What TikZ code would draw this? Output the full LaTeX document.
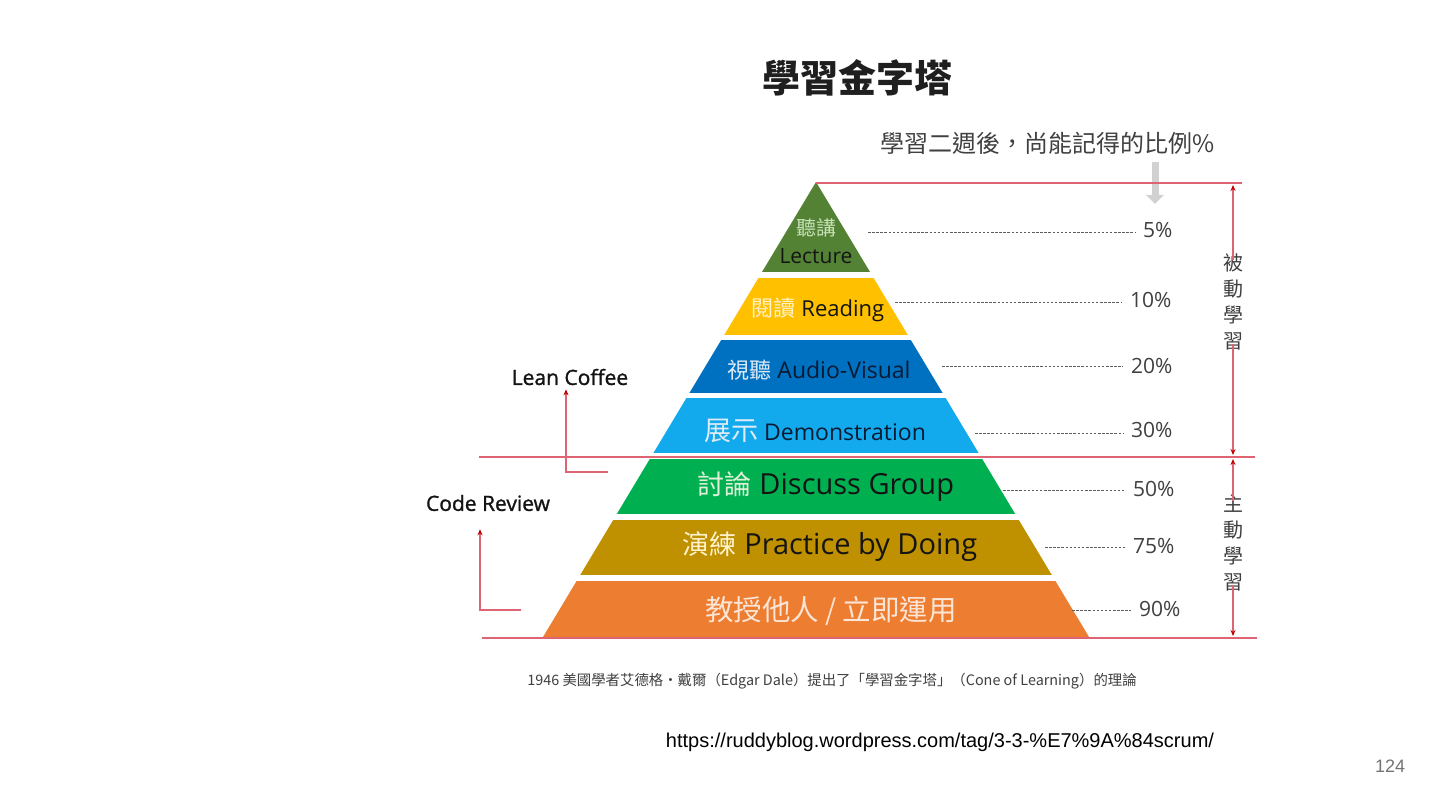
\documentclass[tikz,border=0pt]{standalone}
\usepackage{fontspec}
\setmainfont{Open Sans}
\newfontfamily\cjk{Noto Sans CJK TC}
\newfontfamily\semib[FakeBold=1.2]{Open Sans}
\newfontfamily\urlfont{Liberation Sans}
\usetikzlibrary{arrows.meta}
\definecolor{cLec}{HTML}{548235}
\definecolor{cRead}{HTML}{FFC000}
\definecolor{cAV}{HTML}{0070C0}
\definecolor{cDemo}{HTML}{12AAEC}
\definecolor{cDisc}{HTML}{00B050}
\definecolor{cPrac}{HTML}{BF9000}
\definecolor{cTeach}{HTML}{ED7D31}
\definecolor{lLec}{HTML}{C5E0B4}
\definecolor{lRead}{HTML}{FFF2CC}
\definecolor{lBlue}{HTML}{DEEBF7}
\definecolor{lGreen}{HTML}{E2F0D9}
\definecolor{lOrange}{HTML}{FBE5D6}
\definecolor{dNavy}{HTML}{0B1A33}
\definecolor{dText}{HTML}{141414}
\definecolor{redline}{HTML}{DE6474}
\definecolor{redtip}{HTML}{C00000}
\definecolor{pct}{HTML}{404040}
\newcommand\fsz[2]{\fontsize{#1}{#2}\selectfont}
\begin{document}
\begin{tikzpicture}[x=1pt,y=-1pt,
  txt/.style={inner sep=0pt, anchor=center},
  pctlabel/.style={inner sep=0pt, anchor=west, text=pct, font=\fsz{21}{24}},
  dashline/.style={draw=pct!85, line width=0.9pt, dash pattern=on 2.5pt off 1.6pt},
  redl/.style={draw=redline, line width=1.2pt},
  redarrow/.style={draw=redline, line width=1.2pt, -{Stealth[length=6pt,width=5pt,color=redtip]}},
  sidelabel/.style={inner sep=0pt, align=center, text=pct, font={\cjk\fsz{20}{26}}},
  leftlabel/.style={inner sep=0pt, text=dText, font={\semib\fsz{21}{24}}}
]
\useasboundingbox (0,0) rectangle (1440,810);
\fill[white] (0,0) rectangle (1440,810);

% title
\node[txt, text=black!88] (title) at (857,78) {\cjk\bfseries\fsz{38}{42}學習金字塔};
\node[txt, text=pct] (sub) at (1048,143) {\cjk\fsz{24}{27}學習二週後，尚能記得的比例\%};
\coordinate (gA) at (1155,162);
\coordinate (gB) at (1155,204);
\draw[line width=7pt, draw=black!18, -{Triangle[length=9pt,width=17pt]}] (gA) -- (gB);

% pyramid layers
\begin{scope}
\clip (816,182) -- (543,637) -- (1089,637) -- cycle;
\fill[cLec]   (500,182) rectangle (1100,272);
\fill[cRead]  (500,278) rectangle (1100,335);
\fill[cAV]    (500,340) rectangle (1100,393);
\fill[cDemo]  (500,398) rectangle (1100,453);
\fill[cDisc]  (500,459) rectangle (1100,514);
\fill[cPrac]  (500,520) rectangle (1100,575);
\fill[cTeach] (500,581) rectangle (1100,637);
\end{scope}

% layer texts
\node[txt] (lec1) at (816,228) {\cjk\fsz{20}{24}\color{lLec}聽講};
\node[txt] (lec2) at (816,256) {\fsz{21}{24}\color{dText}Lecture};
\node[txt] (read) at (818,310) {\fsz{22}{24}{\cjk\color{lRead}閱讀} \color{dText}Reading};
\node[txt] (av) at (819,370) {\fsz{23}{26}{\cjk\fsz{22}{26}\color{lBlue}視聽} \color{dNavy}Audio-Visual};
\node[txt] (demo) at (815,431) {\fsz{23}{26}{\cjk\fsz{27}{28}\color{lBlue}展示} \color{dNavy}Demonstration};
\node[txt] (disc) at (826,487) {\fsz{29}{30}{\cjk\fsz{27}{28}\color{lGreen}討論} \color{dText}Discuss Group};
\node[txt] (prac) at (830,547) {\fsz{29}{30}{\cjk\fsz{27}{28}\color{lRead}演練} \color{dText}Practice by Doing};
\node[txt] (teach) at (831,611) {\cjk\fsz{28.5}{30}\color{lOrange}教授他人 / 立即運用};

% percentages
\node[pctlabel] (p5)  at (1143,230) {5\%};
\node[pctlabel] (p10) at (1130,300) {10\%};
\node[pctlabel] (p20) at (1131,366) {20\%};
\node[pctlabel] (p30) at (1131,430) {30\%};
\node[pctlabel] (p50) at (1133,489) {50\%};
\node[pctlabel] (p75) at (1133,546) {75\%};
\node[pctlabel] (p90) at (1139,609) {90\%};
\coordinate (d5)  at (868,232);
\coordinate (d10) at (895,302);
\coordinate (d20) at (942,366);
\coordinate (d30) at (975,433);
\coordinate (d50) at (1003,490);
\coordinate (d75) at (1045,547);
\coordinate (d90) at (1072,610);
\draw[dashline] (d5)  -- ([xshift=-8pt]p5.west |- d5);
\draw[dashline] (d10) -- ([xshift=-8pt]p10.west |- d10);
\draw[dashline] (d20) -- ([xshift=-8pt]p20.west |- d20);
\draw[dashline] (d30) -- ([xshift=-8pt]p30.west |- d30);
\draw[dashline] (d50) -- ([xshift=-8pt]p50.west |- d50);
\draw[dashline] (d75) -- ([xshift=-8pt]p75.west |- d75);
\draw[dashline] (d90) -- ([xshift=-8pt]p90.west |- d90);

% red horizontal lines
\coordinate (h1a) at (816,183);  \coordinate (h1b) at (1242,183);
\coordinate (h2a) at (479,457);  \coordinate (h2b) at (1255,457);
\coordinate (h3a) at (482,638);  \coordinate (h3b) at (1257,638);
\draw[redl] (h1a) -- (h1b);
\draw[redl] (h2a) -- (h2b);
\draw[redl] (h3a) -- (h3b);

% side labels with arrows
\node[sidelabel] (passive) at (1233,302) {被\\動\\學\\習};
\node[sidelabel] (active) at (1233,543) {主\\動\\學\\習};
\coordinate (pT) at (1233,185);
\coordinate (pB) at (1233,455);
\coordinate (aT) at (1233,459);
\coordinate (aB) at (1233,636);
\draw[redarrow] ([yshift=-6pt]passive.north) -- (pT);
\draw[redarrow] ([yshift=6pt]passive.south) -- (pB);
\draw[redarrow] ([yshift=-6pt]active.north) -- (aT);
\draw[redarrow] ([yshift=6pt]active.south) -- (aB);

% left labels
\node[leftlabel] (lean) at (570,377) {Lean Coffee};
\node[leftlabel] (code) at (488,503) {Code Review};
\coordinate (l1) at (608,472);
\coordinate (l2) at (566,472);
\coordinate (c1) at (521,610);
\coordinate (c2) at (480,610);
\draw[redarrow] (l1) -- (l2) -- ([yshift=-4pt]lean.south -| l2);
\draw[redarrow] (c1) -- (c2) -- ([yshift=-18pt]code.south -| c2);

% caption
\node[txt, text=pct] (cap) at (832,681) {\cjk\fsz{14.4}{17}1946 美國學者艾德格‧戴爾（Edgar Dale）提出了「學習金字塔」（Cone of Learning）的理論};

% url and page number
\node[txt, text=black] (url) at (940,742) {\urlfont\fsz{20}{23}https://ruddyblog.wordpress.com/tag/3-3-\%E7\%9A\%84scrum/};
\node[txt, text=black!55] (page) at (1390,766) {\urlfont\fsz{18}{22}124};
\end{tikzpicture}
\end{document}
